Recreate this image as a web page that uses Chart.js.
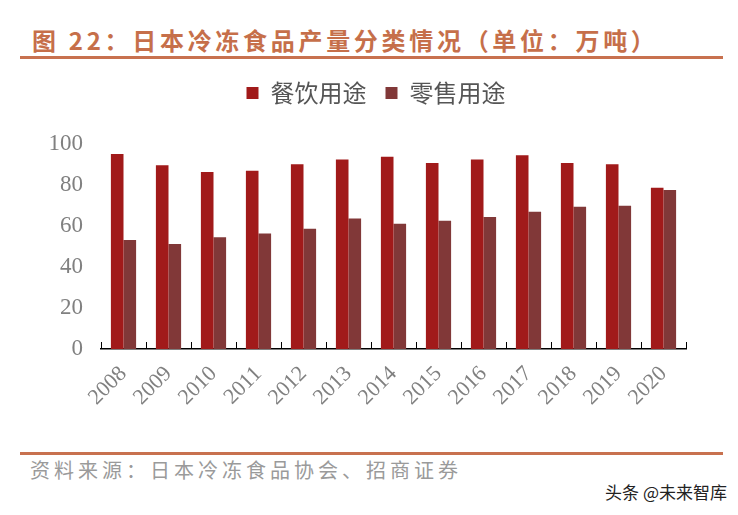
<!DOCTYPE html>
<html>
<head>
<meta charset="utf-8">
<script src="https://cdn.jsdelivr.net/npm/chart.js@4/dist/chart.umd.min.js"></script>
<style>
  body { margin: 0; width: 738px; height: 515px; background: #fff; position: relative; overflow: hidden; }
  #title { position: absolute; left: 32px; top: 26px; font: bold 24px "Noto Sans CJK SC"; line-height: 28px; letter-spacing: 3.7px; color: #c66f4a; white-space: nowrap; }
  .rule { position: absolute; left: 20px; width: 703px; height: 3px; background: #c8714f; }
  #source { position: absolute; left: 30px; top: 457px; font: 20px "Noto Sans CJK SC"; line-height: 26px; letter-spacing: 4px; color: #9a9a9a; white-space: nowrap; }
  #mark { position: absolute; right: 11px; top: 481px; font: 17px "Noto Sans CJK SC"; line-height: 22px; color: #222; white-space: nowrap; }
  #chart { position: absolute; left: 0; top: 0; }
</style>
</head>
<body>
<div id="title">图 22：日本冷冻食品产量分类情况（单位：万吨）</div>
<div class="rule" style="top:56px"></div>
<canvas id="chart" width="738" height="440"></canvas>
<div class="rule" style="top:452px"></div>
<div id="source">资料来源：日本冷冻食品协会、招商证券</div>
<div id="mark">头条 @未来智库</div>
<script>
var years = ["2008", "2009", "2010", "2011", "2012", "2013", "2014", "2015", "2016", "2017", "2018", "2019", "2020"];
var foodService = [95.1, 89.6, 86.3, 87.0, 90.1, 92.5, 93.8, 90.7, 92.5, 94.5, 90.7, 90.1, 78.7];
var retail = [53.2, 51.2, 54.5, 56.3, 58.7, 63.7, 61.1, 62.6, 64.4, 67.0, 69.4, 69.9, 77.6];
var seriesNames = ["餐饮用途", "零售用途"];
var yTicks = [0, 20, 40, 60, 80, 100];

// short tick marks pointing up from the x axis, between categories
var innerTicks = {
  id: "innerTicks",
  afterDraw: function (chart) {
    var ctx = chart.ctx;
    var x = chart.scales.x;
    var bottom = chart.chartArea.bottom;
    ctx.save();
    ctx.strokeStyle = "#000";
    ctx.lineWidth = 1;
    for (var i = 0; i <= years.length; i++) {
      var px = Math.round(x.getPixelForValue(i - 0.5)) + 0.5;
      ctx.beginPath();
      ctx.moveTo(px, bottom - 7);
      ctx.lineTo(px, bottom);
      ctx.stroke();
    }
    ctx.restore();
  }
};

// extra room under the legend, and shift it a bit right
var legendSpace = {
  id: "legendSpace",
  beforeInit: function (chart) {
    var fit = chart.legend.fit;
    chart.legend.fit = function () {
      fit.bind(chart.legend)();
      this.height += 29;
    };
  },
  afterLayout: function (chart) {
    chart.legend.left += 33;
    chart.legend.right += 33;
  }
};

var ctx = document.getElementById("chart").getContext("2d");
var myChart = new Chart(ctx, {
  type: "bar",
  data: {
    labels: years,
    datasets: [
      { label: seriesNames[0], data: foodService, backgroundColor: "#a11a1a", borderWidth: 0 },
      { label: seriesNames[1], data: retail, backgroundColor: "#813838", borderWidth: 0 }
    ]
  },
  options: {
    responsive: false,
    animation: false,
    layout: { padding: { top: 62, left: 0, right: 52, bottom: 11 } },
    categoryPercentage: 0.56,
    barPercentage: 1,
    plugins: {
      tooltip: { enabled: false },
      legend: {
        position: "top",
        labels: {
          boxWidth: 12,
          boxHeight: 12,
          padding: 19,
          color: "#555",
          font: { family: "Noto Sans CJK SC", size: 24 }
        }
      }
    },
    scales: {
      y: {
        min: 0,
        max: 100,
        afterBuildTicks: function (s) {
          s.ticks = yTicks.map(function (v) { return { value: v }; });
        },
        afterFit: function (s) { s.width = 101; },
        grid: { display: false },
        border: { display: false },
        ticks: {
          padding: 10,
          color: "#808080",
          font: { family: "Liberation Serif", size: 23 }
        }
      },
      x: {
        afterFit: function (s) { s.height = 80; },
        grid: { display: false },
        border: { display: true, color: "#000", width: 1.5 },
        ticks: {
          maxRotation: 45,
          minRotation: 45,
          padding: 4,
          color: "#808080",
          font: { family: "Liberation Serif", size: 22 }
        }
      }
    }
  },
  plugins: [innerTicks, legendSpace]
});
</script>
</body>
</html>
